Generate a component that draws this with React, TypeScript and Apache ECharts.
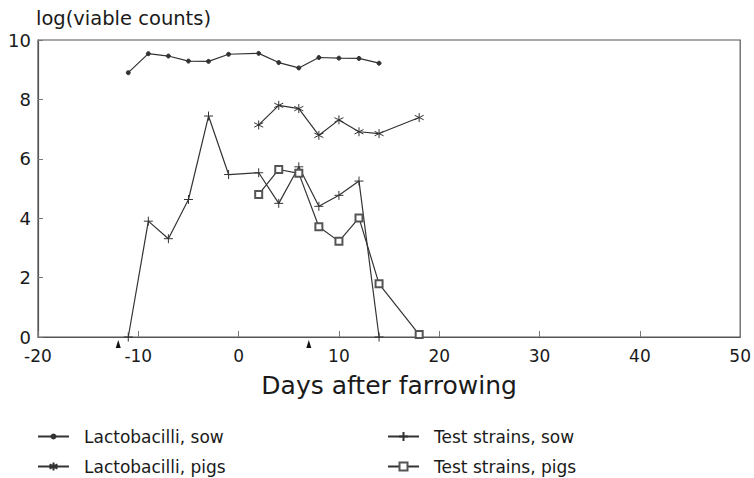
import React, { useEffect, useRef } from "react";
import * as echarts from "echarts";

const lactoSowDays = [-11, -9, -7, -5, -3, -1, 2, 4, 6, 8, 10, 12, 14];
const lactoSowValues = [8.9, 9.54, 9.46, 9.29, 9.28, 9.52, 9.55, 9.24, 9.06, 9.41, 9.39, 9.38, 9.22];

const lactoPigsDays = [2, 4, 6, 8, 10, 12, 14, 18];
const lactoPigsValues = [7.14, 7.8, 7.69, 6.79, 7.31, 6.91, 6.85, 7.39];

const testSowDays = [-11, -9, -7, -5, -3, -1, 2, 4, 6, 8, 10, 12, 14];
const testSowValues = [0, 3.9, 3.31, 4.63, 7.44, 5.47, 5.53, 4.5, 5.73, 4.4, 4.77, 5.25, 0];

const testPigsDays = [2, 4, 6, 8, 10, 12, 14, 18];
const testPigsValues = [4.8, 5.64, 5.51, 3.71, 3.22, 4.01, 1.79, 0.08];

const arrowDays = [-12, 7];

const seriesNames = [
  "Lactobacilli, sow",
  "Lactobacilli, pigs",
  "Test strains, sow",
  "Test strains, pigs",
];

const zip = (xs: number[], ys: number[]) => xs.map((x, i) => [x, ys[i]]);

const INK = "#333";
const TEXT = "#1a1a1a";
const FONT = "DejaVu Sans";

const asterisk = "path://M5,0 L5,10 M0.8,2.5 L9.2,7.5 M9.2,2.5 L0.8,7.5";
const plus = "path://M5,0 L5,10 M0,5 L10,5";

export default function App() {
  const ref = useRef<HTMLDivElement>(null);
  useEffect(() => {
    if (!ref.current) return;
    const chart = echarts.init(ref.current, null, { renderer: "svg" });
    const base = {
      type: "line" as const,
      lineStyle: { color: INK, width: 1.2 },
      itemStyle: { color: INK, borderColor: INK, borderWidth: 1 },
      emphasis: { disabled: true },
    };
    const legendItem = (name: string, left: number, top: number, itemHeight: number) => ({
      orient: "vertical" as const,
      left,
      top,
      padding: 0,
      itemWidth: 31,
      itemHeight,
      selectedMode: false,
      data: [name],
      textStyle: {
        fontFamily: FONT,
        fontSize: 17,
        color: TEXT,
        padding: [0, 0, 0, 10],
      },
    });
    chart.setOption({
      animation: false,
      title: {
        text: "log(viable counts)",
        left: 36,
        top: 8,
        padding: 0,
        textStyle: { fontFamily: FONT, fontSize: 19.5, fontWeight: "normal", color: TEXT },
      },
      grid: {
        left: 38,
        right: 13,
        top: 40,
        bottom: 141,
        show: true,
        borderColor: "#555",
        borderWidth: 1.2,
        backgroundColor: "transparent",
      },
      legend: [
        legendItem(seriesNames[0], 37, 428, 5),
        legendItem(seriesNames[1], 37, 458, 10),
        legendItem(seriesNames[2], 387, 428, 11),
        legendItem(seriesNames[3], 387, 458, 10),
      ],
      xAxis: {
        type: "value",
        min: -20,
        max: 50,
        interval: 10,
        name: "Days after farrowing",
        nameLocation: "middle",
        nameGap: 36,
        nameTextStyle: { fontFamily: FONT, fontSize: 25, color: TEXT },
        axisLine: { show: true, onZero: false, lineStyle: { color: "#555", width: 1.2 } },
        axisTick: { show: true, inside: true, length: 6, lineStyle: { color: "#777" } },
        axisLabel: { fontFamily: FONT, fontSize: 17, color: TEXT, margin: 10 },
        splitLine: { show: false },
      },
      yAxis: {
        type: "value",
        min: 0,
        max: 10,
        interval: 2,
        axisLine: { show: true, onZero: false, lineStyle: { color: "#555", width: 1.2 } },
        axisTick: { show: true, inside: true, length: 5, lineStyle: { color: "#777" } },
        axisLabel: { fontFamily: FONT, fontSize: 18, color: TEXT, margin: 7 },
        splitLine: { show: false },
      },
      series: [
        {
          ...base,
          name: seriesNames[0],
          data: zip(lactoSowDays, lactoSowValues),
          symbol: "circle",
          symbolSize: 4,
        },
        {
          ...base,
          name: seriesNames[1],
          data: zip(lactoPigsDays, lactoPigsValues),
          symbol: asterisk,
          symbolSize: 9,
        },
        {
          ...base,
          name: seriesNames[2],
          data: zip(testSowDays, testSowValues),
          symbol: plus,
          symbolSize: 9,
          markPoint: {
            symbol: "triangle",
            symbolSize: [5, 8],
            symbolOffset: [0, 7],
            itemStyle: { color: "#111", borderWidth: 0 },
            label: { show: false },
            data: arrowDays.map((d) => ({ coord: [d, 0] })),
          },
        },
        {
          ...base,
          name: seriesNames[3],
          data: zip(testPigsDays, testPigsValues),
          symbol: "emptyRect",
          symbolSize: 7,
          itemStyle: { color: "#555", borderColor: "#555", borderWidth: 0.8 },
        },
      ],
    });
    return () => chart.dispose();
  }, []);
  return <div ref={ref} style={{ width: 754, height: 478, position: "absolute", left: 0, top: 0 }} />;
}
